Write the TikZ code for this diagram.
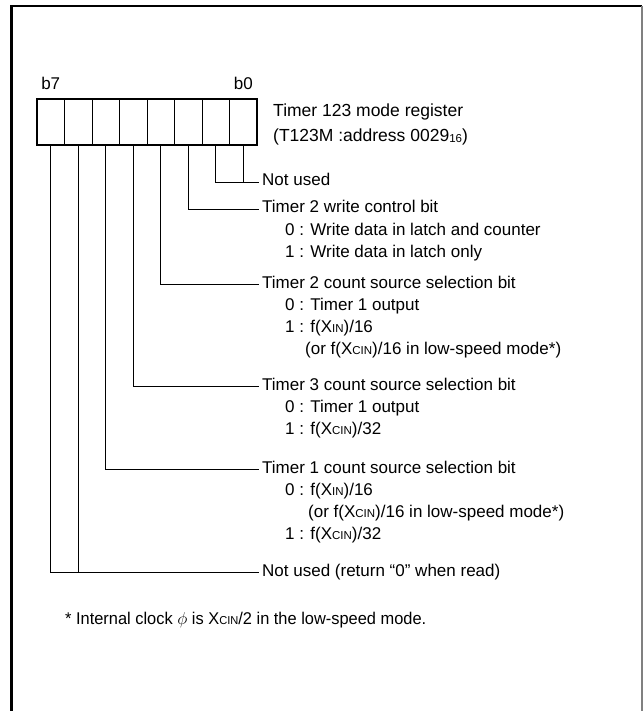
\documentclass[tikz,border=0pt]{standalone}
\usepackage{fontspec}
\setmainfont{Liberation Sans}
\newfontfamily\notefont{Liberation Sans}[FakeStretch=0.965]
\usetikzlibrary{positioning}
\newcommand{\sml}[1]{{\fontsize{11.5}{11.5}\selectfont #1}}
\newcommand{\lowsub}[1]{\raisebox{-1.5pt}{\fontsize{11.5}{11.5}\selectfont #1}}
\tikzset{
	cell/.style={draw, line width=0.9pt, minimum width=27.5pt, minimum height=46pt, inner sep=0pt},
	lbl/.style={inner sep=3pt, anchor=west, text height=11pt, text depth=3pt},
	vals/.style={inner sep=0pt, anchor=north west, align=left},
	wire/.style={line width=0.8pt}
}
\begin{document}
\begin{tikzpicture}[x=1pt, y=-1pt, font=\fontsize{17}{22}\selectfont]
		\useasboundingbox (0,0) rectangle (643,711);
		\draw[line width=2.5pt] (11.5,711) -- (11.5,6) -- (642,6);
		\draw[gray, line width=1.2pt] (642,6) -- (642,711);

		\foreach \i in {0,...,7}
			\node[cell] (b\i) at ({243.25-27.5*\i},122) {};
		\draw[line width=2pt] (b7.north west) rectangle (b0.south east);
		\node[inner sep=3pt, above=6pt of b7] (hi) {b7};
		\node[inner sep=3pt, above=6pt of b0] (lo) {b0};
		\node[anchor=west, align=left, inner sep=3pt, font=\fontsize{17.5}{25}\selectfont] (reg) at (270,124)
			{Timer 123 mode register\\(T123M :address 0029\lowsub{16})};

		\node[lbl] (nu0) at (259,182) {Not used};
		\node[lbl] (t2w) at (259,209) {Timer 2 write control bit};
		\node[vals] (t2wv) at ([xshift=26pt,yshift=-9.8pt]t2w.base west)
			{0 : Write data in latch and counter\\1 : Write data in latch only};
		\node[lbl] (t2c) at (259,284) {Timer 2 count source selection bit};
		\node[vals] (t2cv) at ([xshift=26pt,yshift=-9.8pt]t2c.base west)
			{0 : Timer 1 output\\1 : f(X\sml{IN})/16\\\hspace*{20pt}(or f(X\sml{CIN})/16 in low-speed mode*)};
		\node[lbl] (t3c) at (259,386) {Timer 3 count source selection bit};
		\node[vals] (t3cv) at ([xshift=26pt,yshift=-9.8pt]t3c.base west)
			{0 : Timer 1 output\\1 : f(X\sml{CIN})/32};
		\node[lbl] (t1c) at (259,469) {Timer 1 count source selection bit};
		\node[vals] (t1cv) at ([xshift=26pt,yshift=-9.8pt]t1c.base west)
			{0 : f(X\sml{IN})/16\\\hspace*{23pt}(or f(X\sml{CIN})/16 in low-speed mode*)\\1 : f(X\sml{CIN})/32};
		\node[lbl] (nu7) at (259,572) {Not used (return “0” when read)};

		\draw[wire] (b1.south) |- (nu0.west);
		\draw[wire] (b0.south) -- (b0.south |- nu0.west);
		\draw[wire] (b2.south) |- (t2w.west);
		\draw[wire] (b3.south) |- (t2c.west);
		\draw[wire] (b4.south) |- (t3c.west);
		\draw[wire] (b5.south) |- (t1c.west);
		\draw[wire] (b7.south) |- (nu7.west);
		\draw[wire] (b6.south) -- (b6.south |- nu7.west);

		\node[anchor=west, inner sep=0pt, font=\notefont\fontsize{17}{20}\selectfont] (note) at (65,620)
			{* Internal clock $\phi$ is X\sml{CIN}/2 in the low-speed mode.};
	\end{tikzpicture}
\end{document}
